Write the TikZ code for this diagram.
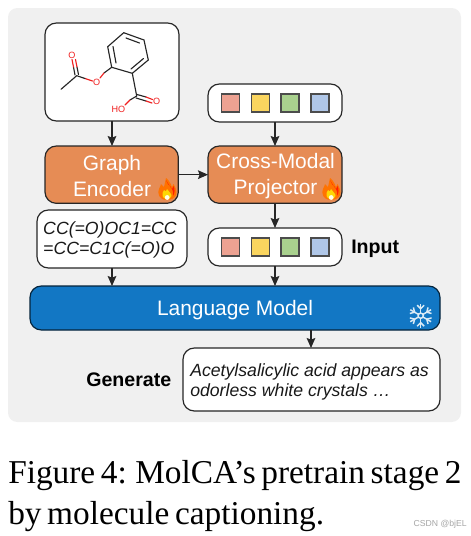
\documentclass[tikz,border=0pt]{standalone}
\usepackage{fontspec}
\setmainfont{Liberation Serif}
\newfontfamily\arial{Liberation Sans}
\newfontfamily\capfont[WordSpace=0.68]{Liberation Serif}
\usetikzlibrary{arrows.meta}
\definecolor{panel}{HTML}{F0F0F0}
\definecolor{orangebox}{HTML}{E68C55}
\definecolor{bluebox}{HTML}{1277C4}
\definecolor{molred}{HTML}{F02020}
\definecolor{tokred}{HTML}{EDA292}
\definecolor{tokyellow}{HTML}{FAD55F}
\definecolor{tokgreen}{HTML}{A9D18E}
\definecolor{tokblue}{HTML}{B0C7E8}
\tikzset{
  x=0.75pt,y=-0.75pt,
  box/.style={draw=black!85,line width=0.9pt,rounded corners=8.5pt,anchor=north west,inner sep=0pt,outer sep=0pt},
  whitebox/.style={box,fill=white},
  orangenode/.style={box,fill=orangebox},
  token/.style={draw=black!70,line width=0.8pt,minimum size=13.5pt,inner sep=0pt,outer sep=0pt,anchor=center},
  conn/.style={draw=black!85,line width=0.9pt,-{Stealth[length=7.5pt,width=6.5pt,inset=1.2pt]}},
  bond/.style={line width=0.85pt,line cap=round,black!85},
  redbond/.style={line width=0.85pt,line cap=round,molred},
  atom/.style={text=molred,inner sep=0pt,font=\arial\fontsize{6.8}{8}\selectfont},
  whitetext/.style={text=white,font=\arial\fontsize{15.7}{19}\selectfont,align=center,inner sep=0pt},
  sidelabel/.style={font=\arial\bfseries\fontsize{14.7}{17}\selectfont,anchor=west,inner sep=0pt},
  italictext/.style={font=\arial\itshape\fontsize{13.25}{15.6}\selectfont,align=left,text=black!90,inner sep=0pt},
  captiontext/.style={font=\capfont\fontsize{25}{30.8}\selectfont,align=left,anchor=north west,inner sep=0pt},
  mark text/.style={font=\arial\fontsize{6.5}{8}\selectfont,text=black!35,anchor=east,inner sep=0pt},
  flake/.style={draw=white!85!bluebox,line width=1.1pt}
}
\newcommand{\flame}[2]{%
  \begin{scope}[shift={(#1,#2)}]
    \fill[orange!90!red] (0,11) .. controls (-8,11) and (-10,4) .. (-8,0) .. controls (-7,-3) and (-6,-3) .. (-6,-5) .. controls (-4,-4) and (-4,-3) .. (-3,-2) .. controls (-2,-5) and (-2,-8) .. (-1,-11) .. controls (3,-8) and (4,-4) .. (5,-2) .. controls (6,-3) and (6,-4) .. (6.5,-5) .. controls (9,-1) and (10,3) .. (9,6) .. controls (8,9) and (4,11) .. (0,11) -- cycle;
    \fill[red!75!orange] (-1,-9) .. controls (1,-6) and (3,-2) .. (5,0) .. controls (6,-1) and (6,-2) .. (6.5,-3) .. controls (8,0) and (8,4) .. (6,7) .. controls (7,1) and (4,-2) .. (1,-5) -- cycle;
    \fill[yellow!75!orange] (0,10) .. controls (-5,10) and (-6,5) .. (-3,1) .. controls (-2,3) and (-1,3) .. (0,0) .. controls (1,3) and (5,4) .. (4.5,7) .. controls (4,9) and (2,10) .. (0,10) -- cycle;
    \fill[white!90!yellow] (0.2,8.5) circle[radius=2.4];
  \end{scope}}
\begin{document}
\begin{tikzpicture}
\useasboundingbox (0,0) rectangle (471,536);
\fill[white] (0,0) rectangle (471,536);
\fill[panel,rounded corners=7pt] (8,8) rectangle (461,422);
% boxes
\node[whitebox,minimum width=100.5pt,minimum height=73.5pt] (mol) at (45,23) {};
\node[whitebox,minimum width=100.5pt,minimum height=28.5pt] (toptok) at (208,84) {};
\node[orangenode,minimum width=100pt,minimum height=43pt] (enc) at (45,146) {};
\node[orangenode,minimum width=100.5pt,minimum height=43pt] (proj) at (208,146) {};
\node[whitebox,minimum width=100.5pt,minimum height=28.5pt] (inp) at (208,228) {};
\node[whitebox,minimum width=112.5pt,minimum height=43.5pt] (smi) at (37,210) {};
\node[box,fill=bluebox,draw=black!70!bluebox,minimum width=307.5pt,minimum height=33pt] (lm) at (30,286) {};
\node[whitebox,minimum width=192.75pt,minimum height=47.25pt] (out) at (183,348) {};
% connectors
\draw[conn] (mol.south -| 112,0) -- (enc.north -| 112,0);
\draw[conn] (toptok) -- (proj);
\draw[conn] (enc) -- (proj);
\draw[conn] (proj) -- (inp);
\draw[conn] (inp) -- (inp |- lm.north);
\draw[conn] (smi) -- (smi |- lm.north);
\draw[conn] (lm.south -| 311,0) -- (out.north -| 311,0);
% texts
\node[whitetext] (enct) at (112,176) {Graph\\Encoder};
\node[whitetext] (projt) at (275.5,176) {Cross-Modal\\Projector};
\node[whitetext] (lmt) at (235,310) {Language Model};
\node[italictext] (smit) at (110,240) {CC(=O)OC1=CC\\=CC=C1C(=O)O};
\node[italictext,anchor=west] (outt) at (190,382) {Acetylsalicylic acid appears as\\odorless white crystals …};
\node[sidelabel] (inlab) at (351,249) {Input};
\node[sidelabel] (genlab) at (86,379.5) {Generate};
% tokens
\node[token,fill=tokred] (a1) at (230.7,103) {};
\node[token,fill=tokyellow] (a2) at (260.3,103) {};
\node[token,fill=tokgreen] (a3) at (290,103) {};
\node[token,fill=tokblue] (a4) at (320,103) {};
\node[token,fill=tokred] (b1) at (230.7,247) {};
\node[token,fill=tokyellow] (b2) at (260.3,247) {};
\node[token,fill=tokgreen] (b3) at (290,247) {};
\node[token,fill=tokblue] (b4) at (320,247) {};
% flames
\flame{167}{189}
\flame{331}{189}
% snowflake
\begin{scope}[shift={(420.7,315.7)}]
  \foreach \r in {0,60,...,300}{
    \begin{scope}[rotate=\r]
      \draw[flake] (0,2.5) -- (0,12);
      \draw[flake] (-3.5,10.5) -- (0,7) -- (3.5,10.5);
    \end{scope}}
  \draw[flake] (0,0) circle[radius=2.6];
\end{scope}
% molecule
\draw[bond] (123.7,32.7) -- (144,40) -- (148.3,60) -- (132.3,73.3) -- (111.7,67.3) -- (107.7,46.7) -- cycle;
\draw[bond] (126,38) -- (139.5,43);
\draw[bond] (143.5,58.5) -- (131,69);
\draw[bond] (113,46.5) -- (116,63);
\draw[bond] (132.3,73.3) -- (136.7,96);
\draw[bond] (111.7,67.3) -- (104,73);
\draw[redbond] (104,73) -- (100,78);
\draw[redbond] (92.5,81) -- (85,78.5);
\draw[bond] (85,78.5) -- (76.7,75.7) -- (61,89.3);
\draw[bond] (75,75) -- (73.5,67);
\draw[bond] (78.5,74.5) -- (77,67);
\draw[redbond] (73.5,67) -- (72,59.5);
\draw[redbond] (77,67) -- (75.5,59.5);
\draw[bond] (136.7,96) -- (130,100);
\draw[redbond] (130,100) -- (125,105);
\draw[bond] (137,94.5) -- (146,97);
\draw[bond] (136,98) -- (146,101);
\draw[redbond] (146,97) -- (152.5,99.5);
\draw[redbond] (146,101) -- (152,103);
\node[atom] (o1) at (72,55) {O};
\node[atom] (o2) at (96.7,82) {O};
\node[atom] (o3) at (156.7,101.7) {O};
\node[atom] (ho) at (118.3,109) {HO};
% caption
\node[captiontext] (cap) at (8,460) {Figure 4: MolCA’s pretrain stage 2\\by molecule captioning.};
\node[mark text] (wm) at (467,524) {CSDN @bjEL};
\end{tikzpicture}
\end{document}
